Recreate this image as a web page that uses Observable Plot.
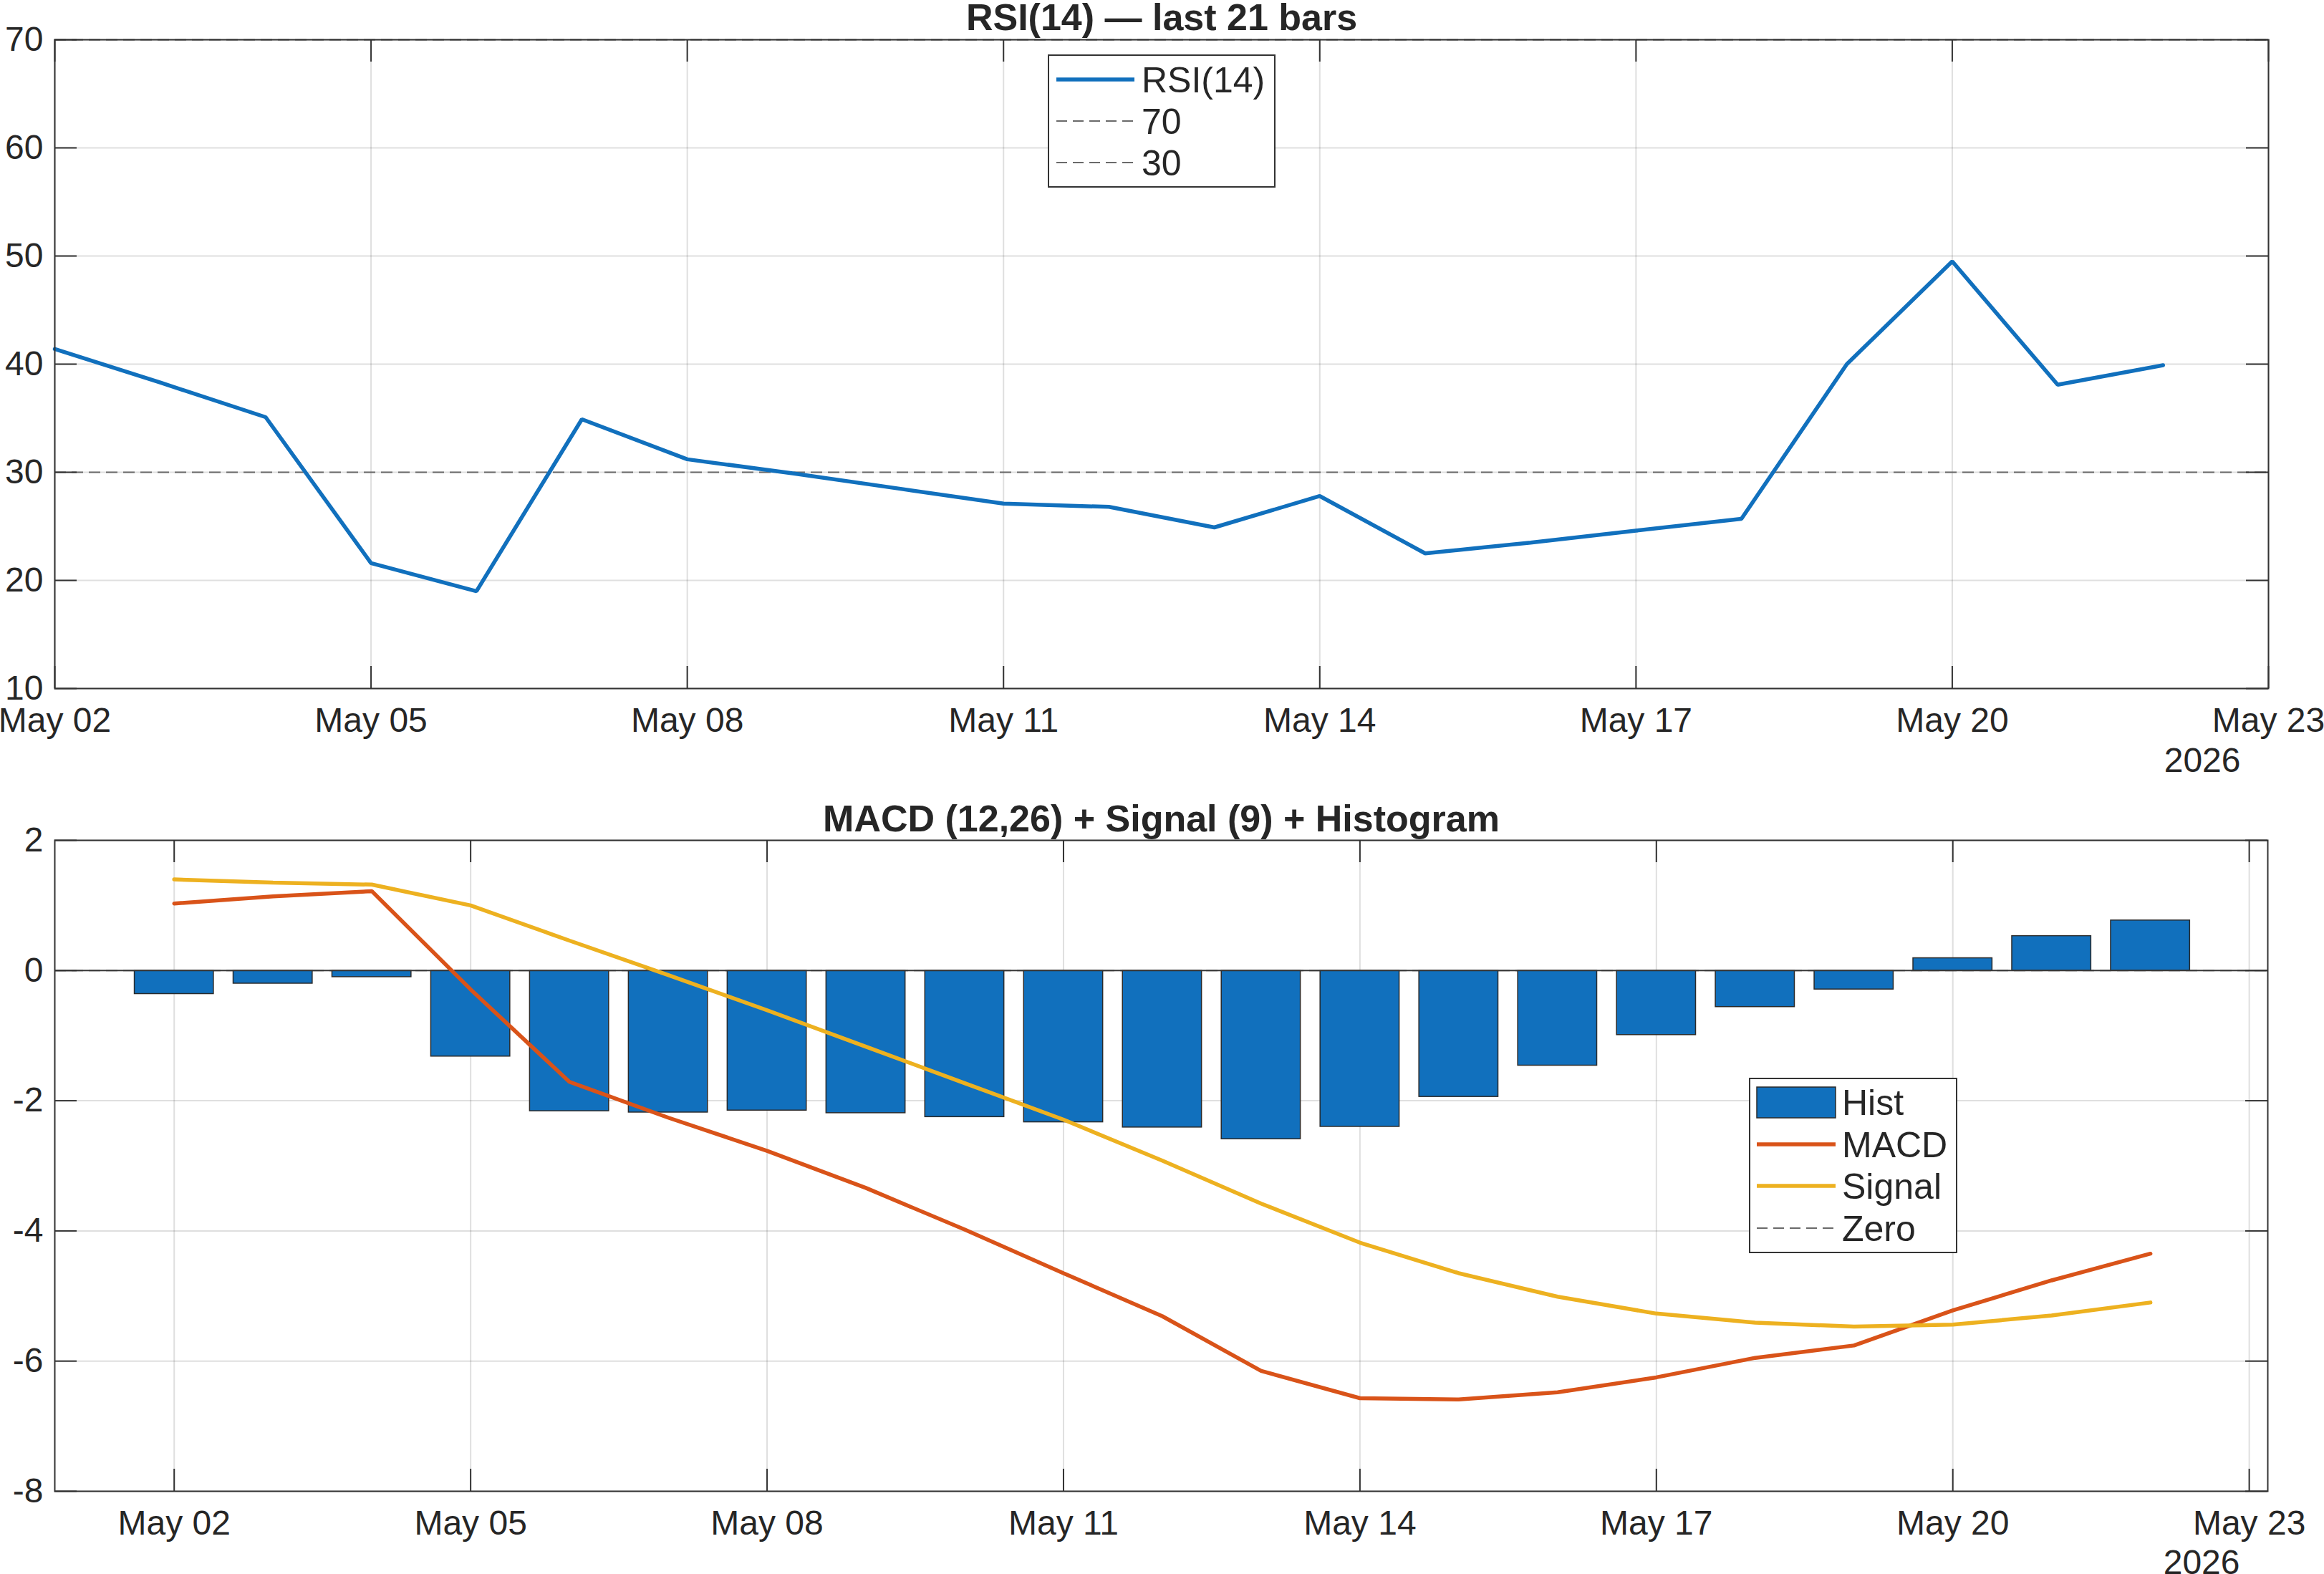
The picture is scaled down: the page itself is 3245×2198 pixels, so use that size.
<!DOCTYPE html>
<html>
<head>
<meta charset="utf-8">
<title>RSI and MACD</title>
<script src="https://cdn.jsdelivr.net/npm/d3@7"></script>
<script src="https://cdn.jsdelivr.net/npm/@observablehq/plot@0.6"></script>
<style>
  html, body { margin: 0; padding: 0; background: #ffffff; }
  #page {
    position: relative; width: 3245px; height: 2198px; overflow: hidden;
    font-family: "Liberation Sans", Arial, Helvetica, sans-serif; color: #262626;
  }
  .panel { position: absolute; left: 0; }
  .legend { position: absolute; }
</style>
</head>
<body>
<div id="page"></div>
<script>
// ---- data -------------------------------------------------------------
const dates = [
  "2026-05-02", "2026-05-03", "2026-05-04", "2026-05-05", "2026-05-06", "2026-05-07", "2026-05-08",
  "2026-05-09", "2026-05-10", "2026-05-11", "2026-05-12", "2026-05-13", "2026-05-14", "2026-05-15",
  "2026-05-16", "2026-05-17", "2026-05-18", "2026-05-19", "2026-05-20", "2026-05-21", "2026-05-22"
];
const rsiValues = [41.4, 38.3, 35.1, 21.6, 19.0, 34.9, 31.2, 29.9, 28.5, 27.1, 26.8,
                   24.9, 27.8, 22.5, 23.5, 24.6, 25.7, 40.0, 49.5, 38.1, 39.9];
const macdValues = [1.03, 1.14, 1.22, -0.29, -1.71, -2.26, -2.77, -3.34, -3.98, -4.65, -5.31,
                    -6.15, -6.57, -6.59, -6.48, -6.25, -5.95, -5.76, -5.22, -4.76, -4.35];
const signalValues = [1.40, 1.35, 1.32, 1.00, 0.46, -0.07, -0.61, -1.17, -1.73, -2.29, -2.92,
                      -3.58, -4.18, -4.65, -5.01, -5.27, -5.41, -5.47, -5.44, -5.30, -5.10];
const histValues = [-0.36, -0.20, -0.10, -1.32, -2.16, -2.18, -2.15, -2.19, -2.25, -2.33, -2.41,
                    -2.59, -2.40, -1.94, -1.46, -0.99, -0.56, -0.29, 0.19, 0.53, 0.77];

const rsiLevels = [70, 30];
const xTickLabels = ["2026-05-02", "2026-05-05", "2026-05-08", "2026-05-11",
                     "2026-05-14", "2026-05-17", "2026-05-20", "2026-05-23"];
const rsiYTicks = [10, 20, 30, 40, 50, 60, 70];
const macdYTicks = [-8, -6, -4, -2, 0, 2];
const rsiXLimits = ["2026-05-02T00:00Z", "2026-05-23T00:00Z"];
const macdXLimits = ["2026-04-30T19:00Z", "2026-05-23T04:30Z"];
const yearLabel = "2026";

// ---- tables -------------------------------------------------------------
const day = 24 * 3600 * 1000;
const barWidth = 0.8 * day;
const parse = s => new Date(s.length === 10 ? s + "T00:00Z" : s);
const xTicks = xTickLabels.map(parse);
const rsiRows = dates.map((d, i) => ({date: parse(d), rsi: rsiValues[i]}));
const macdRows = dates.map((d, i) => ({
  date: parse(d), macd: macdValues[i], signal: signalValues[i], hist: histValues[i]
}));

// ---- styling ------------------------------------------------------------
const FONT = '"Liberation Sans", Arial, Helvetica, sans-serif';
const INK = "#262626";
const BOX = "#333333";
const BLUE = "#1170bd";
const ORANGE = "#d95319";
const YELLOW = "#edb120";
const DASH_GRAY = "#6a6a6a";
const LINE_W = 5.5;
const W = 3245;
const TICK_LEN = 31;
const fmtDay = d3.utcFormat("%b %d");

function boxTicks(xt, yt, plotW, plotH) {
  const s = {stroke: BOX, strokeWidth: 2};
  return [
    Plot.tickX(xt, {x: d => d, insetBottom: plotH - TICK_LEN, ...s}),
    Plot.tickX(xt, {x: d => d, insetTop: plotH - TICK_LEN, ...s}),
    Plot.tickY(yt, {y: d => d, insetRight: plotW - TICK_LEN, ...s}),
    Plot.tickY(yt, {y: d => d, insetLeft: plotW - TICK_LEN, ...s})
  ];
}

function grids(xt, yt) {
  const g = {stroke: INK, strokeOpacity: 0.15, strokeWidth: 2};
  return [Plot.gridX({ticks: xt, ...g}), Plot.gridY({ticks: yt, ...g})];
}

function axes(yt) {
  return [
    Plot.axisX({ticks: xTicks, tickFormat: fmtDay, tickSize: 0, tickPadding: 26,
                fontSize: 48, fill: INK, label: null}),
    Plot.axisY({ticks: yt, tickFormat: d => String(d), tickSize: 0, tickPadding: 16,
                fontSize: 48, fill: INK, label: null})
  ];
}

// ---- RSI panel ------------------------------------------------------------
const rsiM = {top: 55, bottom: 129, left: 76, right: 78, height: 1090};
const rsiPW = W - rsiM.left - rsiM.right, rsiPH = rsiM.height - rsiM.top - rsiM.bottom;
const rsiChart = Plot.plot({
  width: W, height: rsiM.height,
  marginTop: rsiM.top, marginBottom: rsiM.bottom, marginLeft: rsiM.left, marginRight: rsiM.right,
  style: {fontFamily: FONT, fontSize: "48px", color: INK, background: "transparent", overflow: "visible"},
  x: {type: "utc", domain: rsiXLimits.map(parse), label: null},
  y: {domain: [10, 70], label: null},
  marks: [
    ...grids(xTicks, rsiYTicks),
    Plot.ruleY(rsiLevels, {y: d => d, stroke: DASH_GRAY, strokeWidth: 2, strokeDasharray: "16,8"}),
    Plot.line(rsiRows, {x: "date", y: "rsi", stroke: BLUE, strokeWidth: LINE_W, strokeLinejoin: "miter"}),
    ...boxTicks(xTicks, rsiYTicks, rsiPW, rsiPH),
    Plot.frame({stroke: BOX, strokeWidth: 2}),
    ...axes(rsiYTicks),
    Plot.text(["RSI(14) \u2014 last 21 bars"], {text: d => d, frameAnchor: "top", dy: -14,
      lineAnchor: "bottom", fontWeight: "bold", fontSize: 52, fill: INK}),
    Plot.text([yearLabel], {text: d => d, frameAnchor: "bottom-right", dx: -39, dy: 116,
      lineAnchor: "bottom", textAnchor: "end", fontSize: 48, fill: INK})
  ]
});

// ---- MACD panel -----------------------------------------------------------
const macdM = {top: 83, bottom: 116, left: 76, right: 79, height: 1108};
const macdPW = W - macdM.left - macdM.right, macdPH = macdM.height - macdM.top - macdM.bottom;
const macdChart = Plot.plot({
  width: W, height: macdM.height,
  marginTop: macdM.top, marginBottom: macdM.bottom, marginLeft: macdM.left, marginRight: macdM.right,
  style: {fontFamily: FONT, fontSize: "48px", color: INK, background: "transparent", overflow: "visible"},
  x: {type: "utc", domain: macdXLimits.map(parse), label: null},
  y: {domain: [-8, 2], label: null},
  marks: [
    ...grids(xTicks, macdYTicks),
    Plot.ruleY([0], {stroke: DASH_GRAY, strokeWidth: 2, strokeDasharray: "16,8"}),
    Plot.rectY(macdRows, {
      x1: d => new Date(+d.date - barWidth / 2), x2: d => new Date(+d.date + barWidth / 2),
      y1: 0, y2: "hist", fill: BLUE, stroke: "#2a2a2a", strokeWidth: 1.5
    }),
    Plot.ruleY([0], {stroke: "#3a3a3a", strokeWidth: 2}),
    Plot.line(macdRows, {x: "date", y: "macd", stroke: ORANGE, strokeWidth: LINE_W, strokeLinejoin: "miter"}),
    Plot.line(macdRows, {x: "date", y: "signal", stroke: YELLOW, strokeWidth: LINE_W, strokeLinejoin: "miter"}),
    ...boxTicks(xTicks, macdYTicks, macdPW, macdPH),
    Plot.frame({stroke: BOX, strokeWidth: 2}),
    ...axes(macdYTicks),
    Plot.text(["MACD (12,26) + Signal (9) + Histogram"], {text: d => d, frameAnchor: "top", dy: -13,
      lineAnchor: "bottom", fontWeight: "bold", fontSize: 52, fill: INK}),
    Plot.text([yearLabel], {text: d => d, frameAnchor: "bottom-right", dx: -39, dy: 115,
      lineAnchor: "bottom", textAnchor: "end", fontSize: 48, fill: INK})
  ]
});

// ---- layout ----------------------------------------------------------------
const page = document.getElementById("page");
rsiChart.classList.add("panel"); rsiChart.style.top = "0px";
macdChart.classList.add("panel"); macdChart.style.top = "1090px";
page.append(rsiChart, macdChart);

// Legend boxes drawn as small standalone SVGs over each panel.
function legend({left, top, width, height, swatchX0, swatchX1, textX, items}) {
  const svg = d3.create("svg")
    .attr("class", "legend")
    .attr("width", width).attr("height", height)
    .style("left", left + "px").style("top", top + "px");
  svg.append("rect").attr("x", 1).attr("y", 1).attr("width", width - 2).attr("height", height - 2)
    .attr("fill", "#ffffff").attr("stroke", BOX).attr("stroke-width", 2);
  for (const it of items) {
    if (it.kind === "rect") {
      svg.append("rect").attr("x", swatchX0).attr("y", it.y - 21)
        .attr("width", swatchX1 - swatchX0).attr("height", 43)
        .attr("fill", it.color).attr("stroke", "#2a2a2a").attr("stroke-width", 1.5);
    } else {
      svg.append("line").attr("x1", swatchX0).attr("x2", swatchX1).attr("y1", it.y).attr("y2", it.y)
        .attr("stroke", it.color).attr("stroke-width", it.dashed ? 2 : LINE_W)
        .attr("stroke-dasharray", it.dashed ? "15,8" : null);
    }
    svg.append("text").attr("x", textX).attr("y", it.y).attr("dy", "0.35em")
      .attr("font-family", FONT).attr("font-size", 50).attr("fill", INK).text(it.label);
  }
  page.append(svg.node());
}

legend({
  left: 1463, top: 76, width: 318, height: 186, swatchX0: 12, swatchX1: 121, textX: 131,
  items: [
    {label: "RSI(14)", color: BLUE, y: 35},
    {label: String(rsiLevels[0]), color: DASH_GRAY, dashed: true, y: 93},
    {label: String(rsiLevels[1]), color: DASH_GRAY, dashed: true, y: 151}
  ]
});

legend({
  left: 2442, top: 1505, width: 291, height: 245, swatchX0: 11, swatchX1: 121, textX: 130,
  items: [
    {label: "Hist", color: BLUE, kind: "rect", y: 34},
    {label: "MACD", color: ORANGE, y: 93},
    {label: "Signal", color: YELLOW, y: 151},
    {label: "Zero", color: DASH_GRAY, dashed: true, y: 210}
  ]
});
</script>
</body>
</html>
